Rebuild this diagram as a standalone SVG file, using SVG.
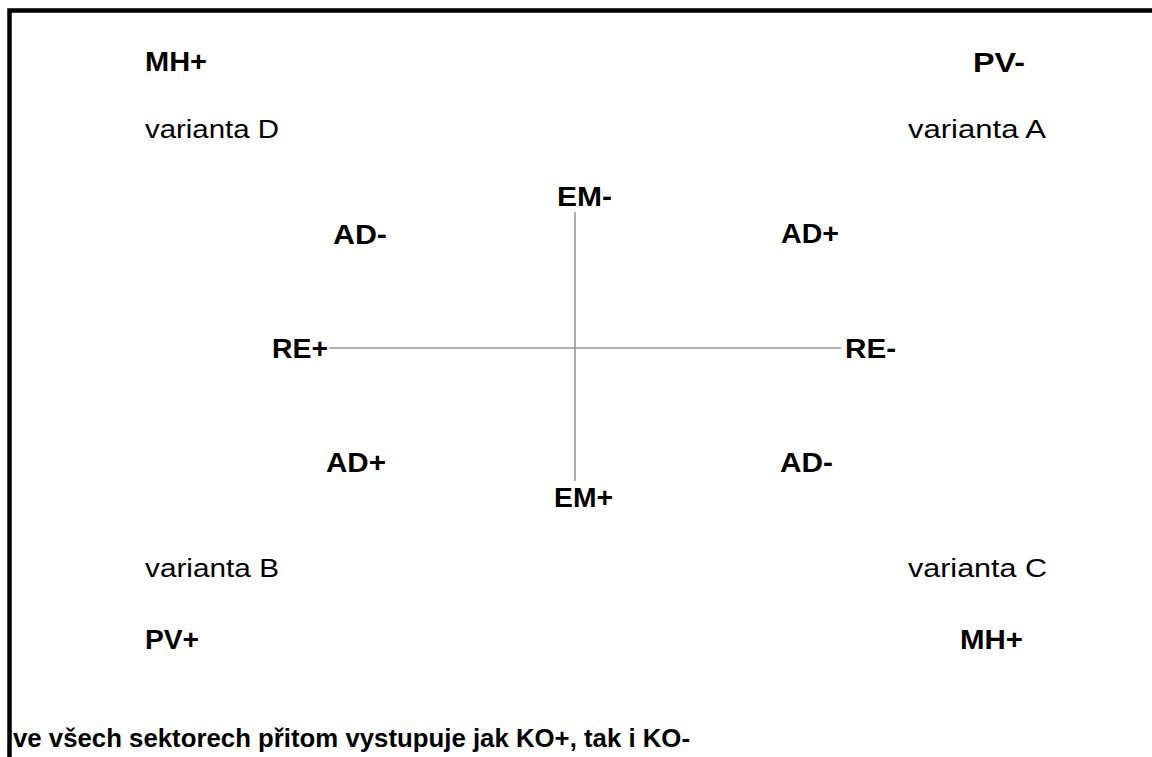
<svg xmlns="http://www.w3.org/2000/svg" width="1152" height="757" viewBox="0 0 1152 757">
  <style>
    .b { font-family: "Liberation Sans", Arial, sans-serif; font-weight: bold; font-size: 27px; fill: #000; }
    .r { font-family: "Liberation Sans", Arial, sans-serif; font-size: 25px; fill: #000; }
    .note { font-family: "Liberation Sans", Arial, sans-serif; font-weight: bold; font-size: 26px; fill: #000; }
    .axis { stroke: #9a9a9a; stroke-width: 1.6; fill: none; }
    .frame { stroke: #000; stroke-width: 4.5; fill: none; }
  </style>
  <rect width="1152" height="757" fill="#fff"/>
  <!-- frame: top and left edges -->
  <path class="frame" d="M9.5,757 V10.5 H1152"/>

  <!-- axes -->
  <g id="connectors">
    <line class="axis" x1="329" y1="348" x2="841" y2="348"/>
    <line class="axis" x1="575" y1="212" x2="575" y2="481"/>
  </g>

  <!-- corner labels -->
  <g id="top-left">
    <text class="b" x="145" y="71" textLength="62" lengthAdjust="spacingAndGlyphs">MH+</text>
    <text class="r" x="145" y="138" textLength="134" lengthAdjust="spacingAndGlyphs">varianta D</text>
  </g>
  <g id="top-right">
    <text class="b" x="973" y="72" textLength="52" lengthAdjust="spacingAndGlyphs">PV-</text>
    <text class="r" x="908" y="138" textLength="138" lengthAdjust="spacingAndGlyphs">varianta A</text>
  </g>
  <g id="bottom-left">
    <text class="r" x="145" y="577" textLength="134" lengthAdjust="spacingAndGlyphs">varianta B</text>
    <text class="b" x="145" y="649" textLength="54" lengthAdjust="spacingAndGlyphs">PV+</text>
  </g>
  <g id="bottom-right">
    <text class="r" x="908" y="577" textLength="139" lengthAdjust="spacingAndGlyphs">varianta C</text>
    <text class="b" x="960" y="649" textLength="63" lengthAdjust="spacingAndGlyphs">MH+</text>
  </g>

  <!-- axis end labels -->
  <g id="em-minus"><text class="b" x="557" y="206" textLength="55" lengthAdjust="spacingAndGlyphs">EM-</text></g>
  <g id="em-plus"><text class="b" x="554" y="507" textLength="59" lengthAdjust="spacingAndGlyphs">EM+</text></g>
  <g id="re-plus"><text class="b" x="272" y="358" textLength="56" lengthAdjust="spacingAndGlyphs">RE+</text></g>
  <g id="re-minus"><text class="b" x="845" y="358" textLength="51" lengthAdjust="spacingAndGlyphs">RE-</text></g>

  <!-- quadrant labels -->
  <g id="ad-minus-tl"><text class="b" x="333" y="244" textLength="54" lengthAdjust="spacingAndGlyphs">AD-</text></g>
  <g id="ad-plus-tr"><text class="b" x="781" y="243" textLength="58" lengthAdjust="spacingAndGlyphs">AD+</text></g>
  <g id="ad-plus-bl"><text class="b" x="326" y="472" textLength="60" lengthAdjust="spacingAndGlyphs">AD+</text></g>
  <g id="ad-minus-br"><text class="b" x="780" y="472" textLength="53" lengthAdjust="spacingAndGlyphs">AD-</text></g>

  <!-- footnote -->
  <g id="note">
    <text class="note" x="13" y="747" textLength="677" lengthAdjust="spacingAndGlyphs">ve všech sektorech přitom vystupuje jak KO+, tak i KO-</text>
  </g>
</svg>
